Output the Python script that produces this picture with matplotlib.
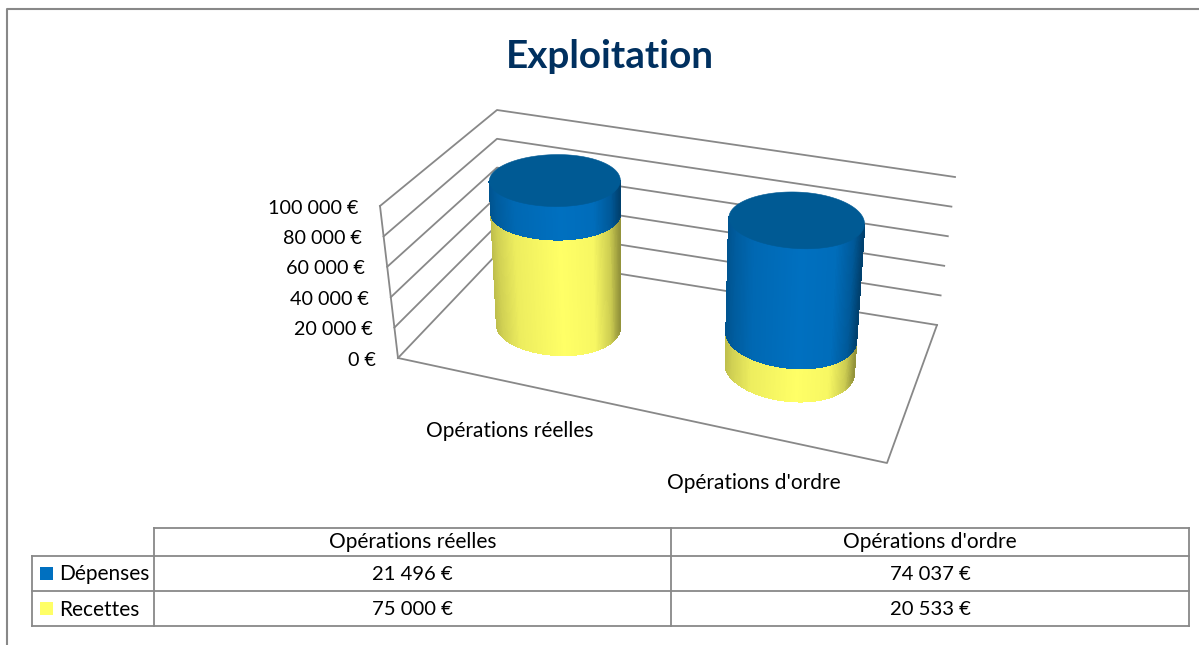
import numpy as np
import matplotlib
matplotlib.use('Agg')
import matplotlib.pyplot as plt
from matplotlib.collections import PolyCollection
from matplotlib.patches import Polygon, Rectangle

plt.rcParams['font.family'] = ['Lato', 'DejaVu Sans']

# data
categories = ["Opérations réelles", "Opérations d'ordre"]
depenses = [21496, 74037]
recettes = [75000, 20533]
axis_ticks = [0, 20000, 40000, 60000, 80000, 100000]
VMAX = 100000

BLUE = '#0070C0'
BLUE_TOP = '#005A94'
YELLOW = '#FFFF66'
GRID = '#888888'
TEXT = '#000000'
W, H = 1199, 645
LW = 1.3

# box corners on screen (front left, front right, back left, back right)
floor = np.array([[398, 358], [887, 463], [497, 254], [937, 325]], dtype=float)
roof = np.array([[380, 206], [895, 291], [497, 110], [955, 177]], dtype=float)

# where the cylinders stand on the floor (u along, v deep) and their radius
cyl_u = [0.238, 0.735]
cyl_v = [0.51, 0.52]
rad_u = [0.125, 0.135]
rad_v = [0.24, 0.24]


def project(u, v, val):
    u = np.asarray(u, dtype=float)
    v = np.asarray(v, dtype=float)
    f = val / VMAX
    c = floor + (roof - floor) * f
    front = c[0] + np.multiply.outer(u, c[1] - c[0])
    back = c[2] + np.multiply.outer(u, c[3] - c[2])
    return front + (back - front) * v[..., None]


def money(v):
    return f"{v:,}".replace(',', ' ') + ' €'


def shade(color, k):
    rgb = np.array(matplotlib.colors.to_rgb(color))
    return np.outer(k, rgb)


def draw_segment(ax, i, v0, v1, color, z):
    t = np.linspace(-np.pi, np.pi, 241)
    u = cyl_u[i] + rad_u[i] * np.cos(t)
    v = cyl_v[i] + rad_v[i] * np.sin(t)
    low = project(u, v, v0)
    high = project(u, v, v1)
    quads = np.stack([low[:-1], low[1:], high[1:], high[:-1]], axis=1)
    # keep only the quads that face the viewer
    x, y = quads[:, :, 0], quads[:, :, 1]
    area = (x * np.roll(y, -1, axis=1) - np.roll(x, -1, axis=1) * y).sum(axis=1)
    front = area * area[60] > 0
    quads = quads[front]
    xs = quads[:, :, 0].mean(axis=1)
    s = (xs - xs.min()) / (xs.max() - xs.min())
    k = np.interp(s, [0, 0.06, 0.2, 0.55, 0.8, 0.93, 1], [0.74, 0.82, 0.93, 1, 0.97, 0.8, 0.58])
    cols = shade(color, k)
    # no antialiasing here, otherwise the seams between quads show as stripes
    pc = PolyCollection(quads, facecolors=cols, edgecolors=cols, linewidths=0.6, antialiaseds=False, zorder=z)
    ax.add_collection(pc)
    return high


fig = plt.figure(figsize=(W / 100, H / 100), dpi=100)
ax = fig.add_axes([0, 0, 1, 1])
ax.set_xlim(0, W)
ax.set_ylim(H, 0)
ax.axis('off')

# chart frame
ax.plot([7, 7, W], [H, 9, 9], color=GRID, lw=1.5, zorder=1)

ax.text(610, 56, "Exploitation", ha='center', va='center', fontsize=27.8, fontweight='bold', color='#00305F')

# grid on the two walls
for val in axis_ticks:
    pts = np.array([project(0, 0, val), project(0, 1, val), project(1, 1, val)])
    ax.plot(pts[:, 0], pts[:, 1], color=GRID, lw=LW, zorder=2)
    ax.text(pts[0, 0] - 22, pts[0, 1] + 2, money(val), ha='right', va='center', fontsize=14.2, color=TEXT)

# left axis and floor
a = np.array([project(0, 0, 0), project(0, 0, VMAX)])
ax.plot(a[:, 0], a[:, 1], color=GRID, lw=LW, zorder=2)
fl = np.array([project(0, 0, 0), project(1, 0, 0), project(1, 1, 0)])
ax.plot(fl[:, 0], fl[:, 1], color=GRID, lw=LW, zorder=2)

# cylinders
for i in range(len(categories)):
    draw_segment(ax, i, 0, recettes[i], YELLOW, 3 + i)
    top = draw_segment(ax, i, recettes[i], recettes[i] + depenses[i], BLUE, 3 + i + 0.1)
    ax.add_patch(Polygon(top, closed=True, facecolor=BLUE_TOP, edgecolor=BLUE_TOP, lw=0.4, zorder=3 + i + 0.2))

ax.text(510, 431, categories[0], ha='center', va='center', fontsize=15, color=TEXT)
ax.text(754, 483, categories[1], ha='center', va='center', fontsize=15, color=TEXT)

# data table under the chart
tx = [32, 154, 671, 1189]
ty = [528, 556, 591, 626]
ax.plot([tx[1], tx[3]], [ty[0], ty[0]], color=GRID, lw=LW)
for y in ty[1:]:
    ax.plot([tx[0], tx[3]], [y, y], color=GRID, lw=LW)
ax.plot([tx[0], tx[0]], [ty[1], ty[3]], color=GRID, lw=LW)
for x in tx[1:]:
    ax.plot([x, x], [ty[0], ty[3]], color=GRID, lw=LW)

for j, name in enumerate(categories):
    ax.text((tx[j + 1] + tx[j + 2]) / 2, (ty[0] + ty[1]) / 2, name, ha='center', va='center', fontsize=15, color=TEXT)

rows = [("Dépenses", depenses, BLUE), ("Recettes", recettes, YELLOW)]
for r, (name, vals, col) in enumerate(rows):
    yc = (ty[r + 1] + ty[r + 2]) / 2
    ax.add_patch(Rectangle((40, yc - 6.5), 13, 13, facecolor=col, edgecolor='none'))
    ax.text(59, yc + 1, name, ha='left', va='center', fontsize=15, color=TEXT)
    for j, v in enumerate(vals):
        ax.text((tx[j + 1] + tx[j + 2]) / 2, yc + 1, money(v), ha='center', va='center', fontsize=14.6, color=TEXT)

fig.savefig('out.png', dpi=100)
